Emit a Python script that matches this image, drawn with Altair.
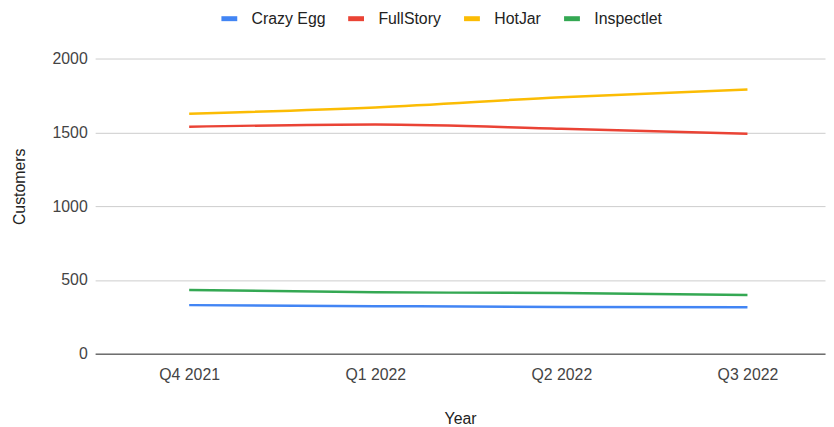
import altair as alt
import pandas as pd

quarters = ["Q4 2021", "Q1 2022", "Q2 2022", "Q3 2022"]
crazy_egg = [329, 322, 317, 314]
fullstory = [1538, 1553, 1525, 1490]
hotjar = [1626, 1668, 1738, 1790]
inspectlet = [432, 416, 411, 397]
series_names = ["Crazy Egg", "FullStory", "HotJar", "Inspectlet"]
colors = ["#4285F4", "#EA4335", "#FBBC04", "#34A853"]
y_ticks = [0, 500, 1000, 1500, 2000]

rows = []
for name, vals in zip(series_names, [crazy_egg, fullstory, hotjar, inspectlet]):
    for q, v in zip(quarters, vals):
        rows.append({"Year": q, "Customers": v, "Series": name})
df = pd.DataFrame(rows)

chart = alt.Chart(df).mark_line(strokeWidth=2.5, interpolate="monotone").encode(
    x=alt.X(
        "Year:N", sort=quarters,
        scale=alt.Scale(type="point", padding=0.461, align=0.548, round=False),
        axis=alt.Axis(
            labelAngle=0, grid=False, domain=True, domainColor="#333333", domainWidth=1,
            ticks=False, labelFontSize=16, labelColor="#444444", labelPadding=13,
            titleFontSize=16, titleColor="#222222", titleFontWeight="normal",
            titlePadding=29, zindex=1,
        ),
    ),
    y=alt.Y(
        "Customers:Q",
        scale=alt.Scale(domain=[0, 2000]),
        axis=alt.Axis(
            values=y_ticks, format="d", domain=False, ticks=False, grid=True, gridColor="#cccccc",
            labelFontSize=16, labelColor="#444444", labelPadding=8,
            title="Customers", titleFontSize=16, titleColor="#222222", titleFontWeight="normal",
            titleAngle=270, titleAlign="center", titleBaseline="middle",
            titleX=-76, titleY=129,
        ),
    ),
    color=alt.Color(
        "Series:N",
        scale=alt.Scale(domain=series_names, range=colors),
        legend=alt.Legend(
            orient="none", legendX=125, legendY=-51, direction="horizontal", title=None,
            symbolType="stroke", symbolStrokeWidth=5, symbolSize=256,
            labelFontSize=16, labelColor="#222222", labelOffset=12, columnPadding=12,
        ),
    ),
).properties(
    width=737, height=298,
    autosize=alt.AutoSizeParams(type="none"),
    padding={"left": 88, "top": 49, "right": 1, "bottom": 71},
).configure(font="Liberation Sans").configure_view(stroke=None)

chart.save("out.html", embed_options={"renderer": "svg", "actions": False})
